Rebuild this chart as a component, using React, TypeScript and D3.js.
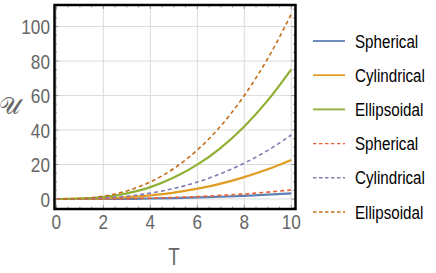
import * as d3 from 'd3';

const temps = [0, 1, 2, 3, 4, 5, 6, 7, 8, 9, 10];
const labels = ['Spherical', 'Cylindrical', 'Ellipsoidal', 'Spherical', 'Cylindrical', 'Ellipsoidal'];
const sphericalA = [0, 0, 0.1, 0.1, 0.3, 0.5, 0.9, 1.3, 1.8, 2.5, 3.3];
const cylindricalA = [0, 0.1, 0.3, 1.0, 2.1, 3.7, 6.0, 8.9, 12.7, 17.2, 22.6];
const ellipsoidalA = [0, 0.2, 1.1, 3.3, 6.9, 12.4, 19.9, 29.7, 42.1, 57.2, 75.2];
const sphericalB = [0, 0, 0.1, 0.2, 0.5, 0.9, 1.4, 2.1, 2.9, 4.0, 5.2];
const cylindricalB = [0, 0.1, 0.6, 1.6, 3.4, 6.1, 9.8, 14.7, 20.8, 28.2, 37.1];
const ellipsoidalB = [0, 0.3, 1.6, 4.7, 9.9, 17.7, 28.4, 42.4, 60.0, 81.5, 107.2];
const xTicks = [0, 2, 4, 6, 8, 10];
const yTicks = [0, 20, 40, 60, 80, 100];

const seriesValues = [sphericalA, cylindricalA, ellipsoidalA, sphericalB, cylindricalB, ellipsoidalB];
const colors = ['#5E81B5', '#E19C24', '#8FB032', '#EB6235', '#8778B3', '#C56E1A'];
const dashed = [false, false, false, true, true, true];

const W = 436;
const H = 273;
const sans = "'Liberation Sans', Arial, sans-serif";
const SQUEEZE = 0.82; // the reference text is horizontally condensed

function Narrow(props: {
  x: number;
  y: number;
  size: number;
  fill: string;
  anchor?: 'start' | 'middle' | 'end';
  children: React.ReactNode;
}) {
  const { x, y, size, fill, anchor = 'start', children } = props;
  return (
    <text
      transform={`translate(${x},${y}) scale(${SQUEEZE},1)`}
      textAnchor={anchor}
      dy="0.36em"
      fontFamily={sans}
      fontSize={size}
      fill={fill}
    >
      {children}
    </text>
  );
}

export default function App() {
  const x = d3.scaleLinear().domain([-0.08, 10.18]).range([54.5, 295.5]);
  const y = d3.scaleLinear().domain([-5.8, 112.5]).range([209, 5]);

  const line = d3
    .line<number>()
    .x((_, i) => x(temps[i]))
    .y(d => y(d))
    .curve(d3.curveMonotoneX);

  const xMinor = d3.range(0, 10.01, 0.5);
  const yMinor = d3.range(-5, 112, 5);

  const [x0, x1] = x.range();
  const [y0, y1] = y.range();

  return (
    <div style={{ position: 'fixed', left: 0, top: 0 }}>
      <svg width={W} height={H} style={{ display: 'block', background: '#fff' }}>
        <defs>
          <clipPath id="plot">
            <rect x={x0} y={y1} width={x1 - x0} height={y0 - y1} />
          </clipPath>
        </defs>

        {/* grid */}
        {xTicks.map(t => (
          <line key={'gx' + t} x1={x(t)} x2={x(t)} y1={y1} y2={y0} stroke="#dcdcdc" strokeWidth={1} />
        ))}
        {yTicks.map(t => (
          <line key={'gy' + t} x1={x0} x2={x1} y1={y(t)} y2={y(t)} stroke="#dcdcdc" strokeWidth={1} />
        ))}

        {/* curves */}
        <g clipPath="url(#plot)">
          {seriesValues.map((vals, i) => (
            <path
              key={i}
              d={line(vals) ?? ''}
              fill="none"
              stroke={colors[i]}
              strokeWidth={dashed[i] ? 1.6 : 2.2}
              strokeDasharray={dashed[i] ? '4 3' : undefined}
            />
          ))}
        </g>

        {/* ticks */}
        {xMinor.map(t => {
          const len = t % 2 === 0 ? 4 : 2.5;
          return (
            <g key={'tx' + t}>
              <line x1={x(t)} x2={x(t)} y1={y0} y2={y0 - len} stroke="#999" strokeWidth={1} />
              <line x1={x(t)} x2={x(t)} y1={y1} y2={y1 + len} stroke="#999" strokeWidth={1} />
            </g>
          );
        })}
        {yMinor.map(t => {
          const len = t % 20 === 0 ? 4 : 2.5;
          return (
            <g key={'ty' + t}>
              <line x1={x0} x2={x0 + len} y1={y(t)} y2={y(t)} stroke="#999" strokeWidth={1} />
              <line x1={x1} x2={x1 - len} y1={y(t)} y2={y(t)} stroke="#999" strokeWidth={1} />
            </g>
          );
        })}

        {/* frame */}
        <rect x={x0} y={y1} width={x1 - x0} height={y0 - y1} fill="none" stroke="#000" strokeWidth={2.5} />

        {/* tick labels */}
        {xTicks.map(t => (
          <Narrow key={'lx' + t} x={x(t)} y={221} size={21} fill="#666" anchor="middle">
            {t}
          </Narrow>
        ))}
        {yTicks.map(t => (
          <Narrow key={'ly' + t} x={50} y={y(t)} size={21} fill="#666" anchor="end">
            {t}
          </Narrow>
        ))}

        {/* axis titles */}
        <Narrow x={174} y={257} size={23} fill="#666" anchor="middle">
          T
        </Narrow>
        <text x={10} y={114} textAnchor="middle" fontFamily="'DejaVu Serif', serif" fontSize={24} fill="#666">
          𝒰
        </text>

        {/* legend */}
        {labels.map((name, i) => {
          const ly = 41 + i * 34.2;
          return (
            <g key={'lg' + i}>
              <line
                x1={313}
                x2={345}
                y1={ly}
                y2={ly}
                stroke={colors[i]}
                strokeWidth={dashed[i] ? 1.4 : 1.8}
                strokeDasharray={dashed[i] ? '3.5 2.5' : undefined}
              />
              <Narrow x={355} y={ly} size={18.5} fill="#000">
                {name}
              </Narrow>
            </g>
          );
        })}
      </svg>
    </div>
  );
}
